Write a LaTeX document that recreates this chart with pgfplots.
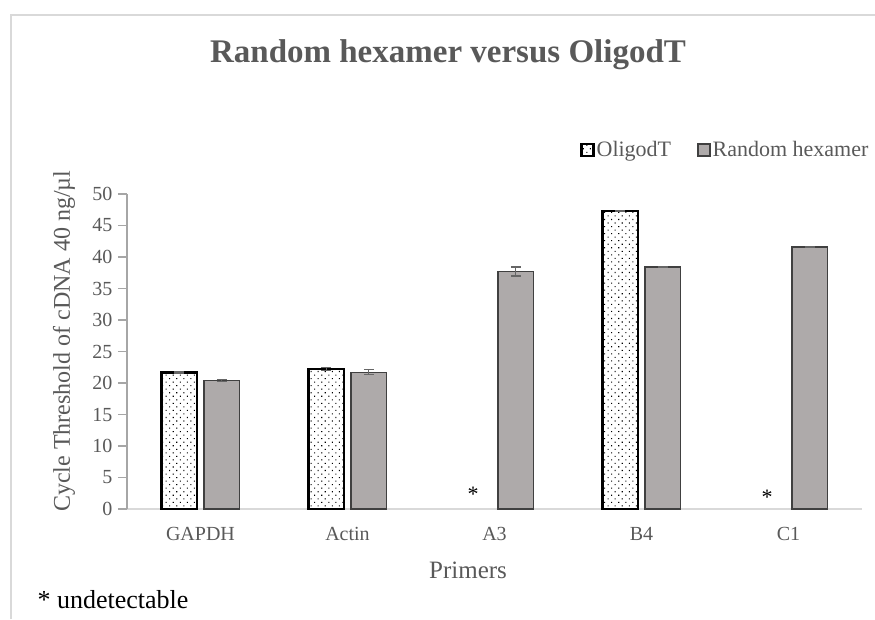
\documentclass[border=0pt]{standalone}
\usepackage{fontspec}
\setmainfont{Liberation Serif}
\usepackage{pgfplots}
\pgfplotsset{compat=1.18}
\usetikzlibrary{patterns.meta}
\definecolor{txtgray}{HTML}{595959}
\definecolor{barfill}{HTML}{AEAAAA}
\definecolor{bardraw}{HTML}{404040}
\definecolor{framegray}{HTML}{D9D9D9}
\definecolor{axgray}{HTML}{A6A6A6}

\begin{document}
\begin{tikzpicture}[x=1pt,y=1pt]
\useasboundingbox (0,0) rectangle (875,-619);
\draw[framegray, line width=1.5pt] (11,-619) -- (11,-15) -- (875,-15);
\begin{axis}[
  at={(127pt,-509pt)}, anchor=south west,
  scale only axis, width=735pt, height=315pt,
  xmin=-0.5, xmax=4.5, ymin=0, ymax=50,
  ytick={0,5,...,50},
  xtick={0,...,4}, xticklabels={GAPDH,Actin,A3,B4,C1},
  axis x line*=bottom, axis y line*=left,
  x axis line style={framegray, line width=1.2pt},
  y axis line style={axgray, line width=1.2pt},
  xtick style={draw=none},
  ytick style={axgray, line width=1.2pt},
  tick align=outside, major tick length=9pt,
  /pgf/number format/assume math mode=true,
  tick label style={font=\fontsize{20}{24}\selectfont, text=txtgray},
  xticklabel style={yshift=-6pt},
  yticklabel style={xshift=-2pt},
  ylabel={Cycle Threshold of cDNA 40 ng/µl},
  ylabel style={font=\fontsize{24}{28}\selectfont, text=txtgray,
    at={(axis description cs:-0.0857,0.533)}, anchor=center},
  xlabel={Primers},
  xlabel style={font=\fontsize{25}{30}\selectfont, text=txtgray,
    at={(axis description cs:0.464,-0.194)}, anchor=center},
  ybar, bar width=0.24,
  legend columns=2,
  legend style={draw=none, fill=none, at={(0.612,1.14)}, anchor=west,
    font=\fontsize{22}{26}\selectfont, text=txtgray,
    /tikz/every even column/.append style={column sep=24pt}},
  legend image code/.code={\draw[#1] (0pt,-6pt) rectangle (12pt,6pt);},
  error bars/y dir=both, error bars/y explicit,
  error bars/error bar style={color=bardraw!80, line width=1.2pt},
  error bars/error mark options={rotate=90, mark size=5pt, line width=1.2pt, color=bardraw!80},
]
\addplot[bar shift=-0.145, draw=black, line width=2.6pt,
  pattern={Dots[distance=5pt, radius=0.75pt, angle=45]}]
  coordinates {(0,21.7) +- (0,0.1) (1,22.2) +- (0,0.2) (3,47.3) +- (0,0)};
\addlegendentry{OligodT}
\addplot[bar shift=0.145, draw=bardraw, line width=1.5pt, fill=barfill]
  coordinates {(0,20.4) +- (0,0.15) (1,21.7) +- (0,0.4) (2,37.7) +- (0,0.7) (3,38.4) +- (0,0) (4,41.6) +- (0,0)};
\addlegendentry{Random hexamer}
\addplot[draw=none, forget plot, bar shift=0, nodes near coords={*},
  every node near coord/.append style={font=\fontsize{22}{24}\selectfont, text=black, anchor=center}]
  coordinates {(1.855,2.3) (3.855,1.9)};
\end{axis}
\node[font=\fontsize{33}{38}\selectfont\bfseries, text=txtgray] at (448,-55) {Random hexamer versus OligodT};
\node[font=\fontsize{26}{30}\selectfont, anchor=west] at (34,-600) {* undetectable};
\end{tikzpicture}
\end{document}
